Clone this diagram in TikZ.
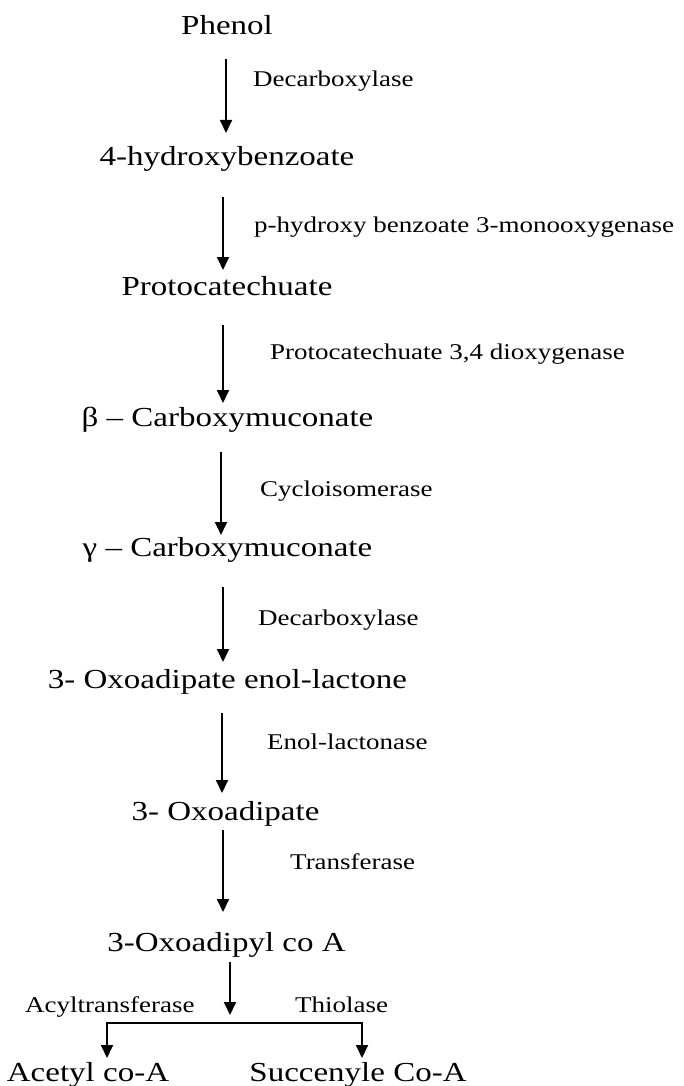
\documentclass[tikz,border=0pt]{standalone}
\usepackage{fontspec}
\setmainfont[FakeStretch=1.2]{Liberation Serif}
\usetikzlibrary{arrows.meta,calc}
\begin{document}
\begin{tikzpicture}[x=1pt,y=-1pt,
  cmpd/.style={anchor=base,inner sep=0pt,font=\fontsize{27.5}{30}\selectfont},
  enz/.style={anchor=base west,inner sep=0pt,font=\fontsize{22.5}{25}\selectfont},
  arr/.style={line width=1.8pt,-{Triangle[width=12pt,length=13pt]}},
  ln/.style={line width=1.8pt}]
\useasboundingbox[fill=white] (0,0) rectangle (683,1086);
% compounds
\node[cmpd] (phenol) at (227,35) {Phenol};
\node[cmpd] (hb) at (227,166) {4-hydroxybenzoate};
\node[cmpd] (proto) at (227,295) {Protocatechuate};
\node[cmpd] (beta) at (227.5,426) {β – Carboxymuconate};
\node[cmpd] (gamma) at (227.5,556) {γ – Carboxymuconate};
\node[cmpd] (enol) at (227.5,688) {3- Oxoadipate enol-lactone};
\node[cmpd] (oxo) at (225.5,820) {3- Oxoadipate};
\node[cmpd] (coa) at (226.5,951) {3-Oxoadipyl co A};
\node[cmpd] (acetyl) at (88,1081) {Acetyl co-A};
\node[cmpd] (succ) at (358,1081) {Succenyle Co-A};
% enzymes
\node[enz] (e1) at (253,87) {Decarboxylase};
\node[enz] (e2) at (254,232) {p-hydroxy benzoate 3-monooxygenase};
\node[enz] (e3) at (270,359) {Protocatechuate 3,4 dioxygenase};
\node[enz] (e4) at (260,496) {Cycloisomerase};
\node[enz] (e5) at (258,625) {Decarboxylase};
\node[enz] (e6) at (267,749) {Enol-lactonase};
\node[enz] (e7) at (290,869) {Transferase};
\node[enz] (e8) at (25,1012) {Acyltransferase};
\node[enz] (e9) at (295,1012) {Thiolase};
% arrows
\draw[arr] ($(phenol.base)+(-1,24)$) -- ($(hb.base)+(-1,-33)$);
\draw[arr] ($(hb.base)+(-4,31)$) -- ($(proto.base)+(-4,-25)$);
\draw[arr] ($(proto.base)+(-4,30)$) -- ($(beta.base)+(-4.5,-23)$);
\draw[arr] ($(beta.base)+(-6.5,26)$) -- ($(gamma.base)+(-6.5,-21)$);
\draw[arr] ($(gamma.base)+(-4.5,31)$) -- ($(enol.base)+(-4.5,-26)$);
\draw[arr] ($(enol.base)+(-5.5,25)$) -- ($(oxo.base)+(-3.5,-27)$);
\draw[arr] ($(oxo.base)+(-2.5,10)$) -- ($(coa.base)+(-3.5,-39)$);
\draw[arr] ($(coa.base)+(3.5,11)$) coordinate (s8) -- ($(coa.base)+(3.5,64)$) coordinate (t8);
\coordinate (bl) at ($(acetyl.base)+(19,-58)$);
\coordinate (br) at ($(succ.base)+(4,-58)$);
\draw[ln] (bl) -- (br);
\draw[arr] ($(bl)+(0,-0.9)$) -- ($(acetyl.base)+(19,-23)$);
\draw[arr] ($(br)+(0,-0.9)$) -- ($(succ.base)+(4,-23)$);
\end{tikzpicture}
\end{document}
